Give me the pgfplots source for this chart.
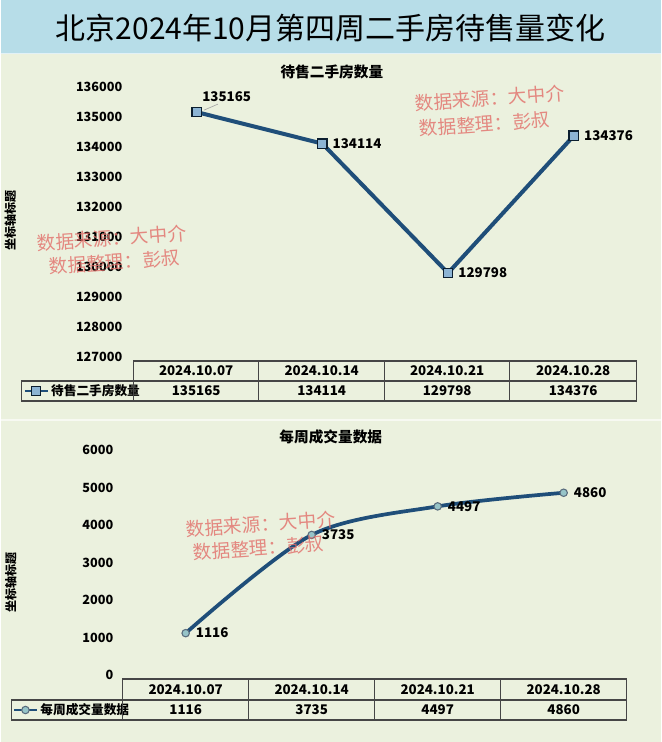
\documentclass[border=0pt]{standalone}
\usepackage{pgfplots}
\pgfplotsset{compat=1.18}
\usepackage{fontspec}
\setmainfont{Noto Sans CJK SC}
\definecolor{bg}{RGB}{235,241,222}
\definecolor{band}{RGB}{183,221,232}
\definecolor{line1}{RGB}{31,78,121}
\definecolor{mk1}{RGB}{140,180,212}
\definecolor{mk2}{RGB}{150,196,200}
\definecolor{wm}{RGB}{226,110,105}
\definecolor{tbl}{RGB}{70,70,70}
\begin{document}
\begin{tikzpicture}
\begin{scope}[x=0.75pt,y=-0.75pt]
\fill[bg] (0,0) rectangle (660,742);
\fill[band] (0,0) rectangle (660,53);
\draw[white!60!band,line width=1pt] (0,53.5) -- (660,53.5);
\draw[white!60!bg,line width=1pt] (0,420) -- (660,420);
\node[font=\fontsize{22.5}{26}\selectfont] at (330,28) {北京2024年10月第四周二手房待售量变化};
\end{scope}

\pgfplotsset{
  myax/.style={
    scale only axis, clip=false,
    xmin=-0.5, xmax=3.5, xtick=\empty,
    axis line style={draw=none}, major tick length=0pt,
    scaled y ticks=false, ytick distance=1000,
    /pgf/number format/fixed, /pgf/number format/precision=0,
    /pgf/number format/1000 sep={},
    /pgf/number format/assume math mode=true,
    yticklabel style={font=\bfseries\fontsize{9.5}{12}\selectfont},
    title style={anchor=center, yshift=0pt, font=\bfseries\fontsize{11}{14}\selectfont},
    ylabel style={anchor=center, rotate=0, font=\bfseries\fontsize{9}{11}\selectfont},
    legend style={draw=none, fill=none, anchor=west, inner sep=0pt,
      font=\bfseries\fontsize{9.5}{11}\selectfont, legend cell align=left},
  }
}

% ---------- panel 1 ----------
\begin{axis}[myax,
  at={(99.75pt,-267.75pt)}, anchor=south west,
  width=377.25pt, height=202.5pt,
  ymin=127000, ymax=136000,
  yticklabel style={xshift=-5pt},
  title={待售二手房数量},
  title style={at={(axis description cs:0.394,1.026)}},
  ylabel={坐标轴标题},
  ylabel style={at={(axis description cs:-0.245,0.507)}},
  legend style={at={(axis description cs:-0.219,-0.126)}},
  legend image post style={line width=1.5pt},
]
\addplot[line1, line width=3pt, mark=square*, mark size=3.5pt,
  mark options={fill=mk1, draw=black!60!line1, line width=1pt},
  nodes near coords,
  point meta=explicit symbolic,
  every node near coord/.append style={anchor=west, xshift=4pt, text=black,
    font=\bfseries\fontsize{10}{12}\selectfont}]
  coordinates {(0,135165)[] (1,134114)[134114] (2,129798)[129798] (3,134376)[134376]};
\legend{待售二手房数量}
\draw[gray!70, line width=0.5pt] (axis cs:0.06,135230) -- (axis cs:0.17,135430);
\node[font=\bfseries\fontsize{10}{12}\selectfont] at (axis cs:0.24,135667) {135165};
\end{axis}

% ---------- panel 2 ----------
\begin{axis}[myax,
  at={(91.5pt,-506.25pt)}, anchor=south west,
  width=378pt, height=168.75pt,
  ymin=0, ymax=6000,
  yticklabel style={xshift=-3.5pt},
  title={每周成交量数据},
  title style={at={(axis description cs:0.413,1.022)}},
  ylabel={坐标轴标题},
  ylabel style={at={(axis description cs:-0.222,0.413)}},
  legend style={at={(axis description cs:-0.218,-0.1556)}},
  legend image post style={line width=1.5pt},
]
\addplot[line1, line width=2.8pt, smooth, mark=*, mark size=2.8pt,
  mark options={fill=mk2, draw=gray!60!line1, line width=0.8pt},
  nodes near coords, nodes near coords align=horizontal,
  every node near coord/.append style={xshift=4pt, text=black,
    font=\bfseries\fontsize{10}{12}\selectfont}]
  coordinates {(0,1116) (1,3735) (2,4497) (3,4860)};
\legend{每周成交量数据}
\end{axis}

% ---------- tables and watermarks ----------
\begin{scope}[x=0.75pt,y=-0.75pt]
\tikzset{tl/.style={draw=tbl, line width=0.8pt}, tt/.style={font=\bfseries\fontsize{10}{12}\selectfont}}
% table 1
\draw[tl] (133,361) rectangle (636,381);
\draw[tl] (21,381) rectangle (636,401);
\foreach \xx in {258,384,509} \draw[tl] (\xx,361) -- (\xx,401);
\draw[tl] (133,381) -- (133,401);
\node[tt] at (195.5,371) {2024.10.07};
\node[tt] at (321,371) {2024.10.14};
\node[tt] at (446.5,371) {2024.10.21};
\node[tt] at (572.5,371) {2024.10.28};
\node[tt] at (195.5,391) {135165};
\node[tt] at (321,391) {134114};
\node[tt] at (446.5,391) {129798};
\node[tt] at (572.5,391) {134376};
% table 2
\draw[tl] (122,679) rectangle (626,700);
\draw[tl] (10.5,700) rectangle (626,720);
\foreach \xx in {248,374,500} \draw[tl] (\xx,679) -- (\xx,720);
\draw[tl] (122,700) -- (122,720);
\node[tt] at (185,689.5) {2024.10.07};
\node[tt] at (311,689.5) {2024.10.14};
\node[tt] at (437,689.5) {2024.10.21};
\node[tt] at (563,689.5) {2024.10.28};
\node[tt] at (185,710) {1116};
\node[tt] at (311,710) {3735};
\node[tt] at (437,710) {4497};
\node[tt] at (563,710) {4860};
% watermarks
\tikzset{wmk/.style={text=wm, opacity=0.8, rotate=4, font=\fontsize{14}{16}\selectfont}}
\node[wmk] at (489,98) {数据来源：大中介};
\node[wmk] at (484,124) {数据整理：彭叔};
\node[wmk] at (111,238) {数据来源：大中介};
\node[wmk] at (114,262) {数据整理：彭叔};
\node[wmk] at (260,524) {数据来源：大中介};
\node[wmk] at (258,548) {数据整理：彭叔};
\end{scope}
\end{tikzpicture}
\end{document}
